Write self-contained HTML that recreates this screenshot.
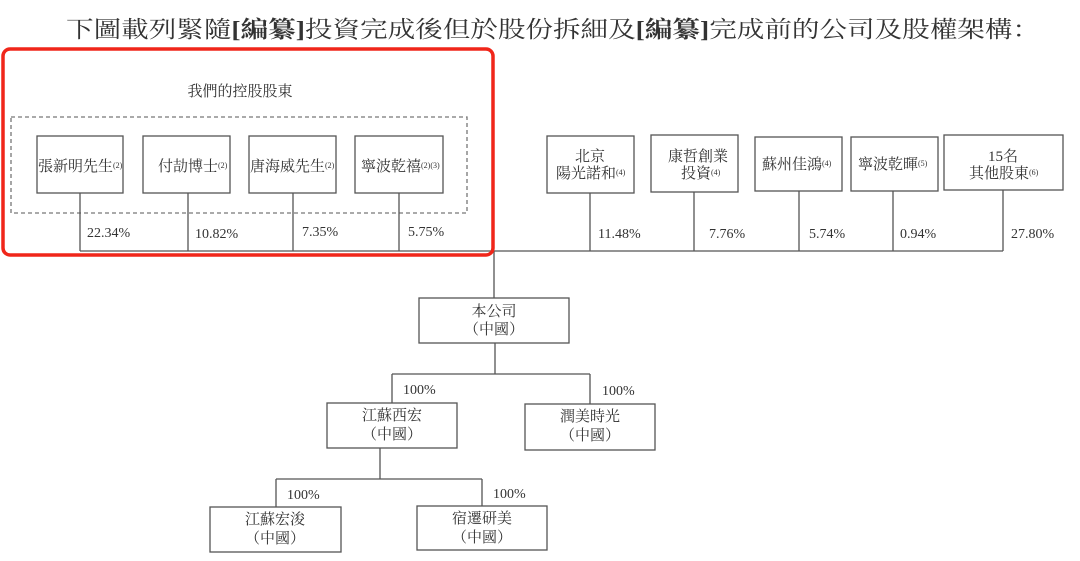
<!DOCTYPE html>
<html><head><meta charset="utf-8"><style>
html,body{margin:0;padding:0;background:#fff;}
svg{display:block;}
text{font-family:"Liberation Serif","Noto Serif CJK SC","Noto Sans CJK TC",serif;fill:#333;}
</style></head><body>
<svg width="1080" height="561" viewBox="0 0 1080 561" xmlns="http://www.w3.org/2000/svg">
<text x="66" y="37" font-size="23" textLength="974" lengthAdjust="spacingAndGlyphs">下圖載列緊隨<tspan font-weight="bold">[編纂]</tspan>投資完成後但於股份拆細及<tspan font-weight="bold">[編纂]</tspan>完成前的公司及股權架構：</text>
<g stroke="#555" stroke-width="1.3" fill="none">
<rect x="11" y="117" width="456" height="96" stroke-dasharray="4,3" stroke="#777"/>
<rect x="37" y="136" width="86" height="57"/>
<rect x="143" y="136" width="87" height="57"/>
<rect x="249" y="136" width="87" height="57"/>
<rect x="355" y="136" width="88" height="57"/>
<rect x="547" y="136" width="87" height="57"/>
<rect x="651" y="135" width="87" height="57"/>
<rect x="755" y="137" width="87" height="54"/>
<rect x="851" y="137" width="87" height="54"/>
<rect x="944" y="135" width="119" height="55"/>
<path d="M80 193V251M188 193V251M293 193V251M399 193V251M590 193V251M694 192V251M799 191V251M893 191V251M1003 190V251M80 251H1003"/>
<path d="M494 251V298M495 343V374M392 374H590M392 374V403M590 374V404M380 448V479M276 479H482M276 479V507M482 479V506"/>
<rect x="419" y="298" width="150" height="45"/>
<rect x="327" y="403" width="130" height="45"/>
<rect x="525" y="404" width="130" height="46"/>
<rect x="210" y="507" width="131" height="45"/>
<rect x="417" y="506" width="130" height="44"/>
</g>
<rect x="3" y="49" width="490" height="206" rx="7" fill="none" stroke="#f0261a" stroke-width="3.5"/>
<g font-size="15">
<text x="240" y="96" text-anchor="middle">我們的控股股東</text>
<text x="38" y="171">張新明先生<tspan font-size="8" dy="-3">(2)</tspan></text>
<text x="158" y="171">付劼博士<tspan font-size="8" dy="-3">(2)</tspan></text>
<text x="250" y="171">唐海威先生<tspan font-size="8" dy="-3">(2)</tspan></text>
<text x="361" y="171">寧波乾禧<tspan font-size="8" dy="-3">(2)(3)</tspan></text>
<text x="590" y="161" text-anchor="middle">北京</text>
<text x="556" y="178">陽光諾和<tspan font-size="8" dy="-3">(4)</tspan></text>
<text x="668" y="161">康哲創業</text>
<text x="681" y="178">投資<tspan font-size="8" dy="-3">(4)</tspan></text>
<text x="762" y="169">蘇州佳鴻<tspan font-size="8" dy="-3">(4)</tspan></text>
<text x="858" y="169">寧波乾暉<tspan font-size="8" dy="-3">(5)</tspan></text>
<text x="1003" y="161" text-anchor="middle">15名</text>
<text x="969" y="178">其他股東<tspan font-size="8" dy="-3">(6)</tspan></text>
<g font-size="14">
<text x="87" y="237">22.34%</text>
<text x="195" y="238">10.82%</text>
<text x="302" y="236">7.35%</text>
<text x="408" y="236">5.75%</text>
<text x="598" y="238">11.48%</text>
<text x="709" y="238">7.76%</text>
<text x="809" y="238">5.74%</text>
<text x="900" y="238">0.94%</text>
<text x="1011" y="238">27.80%</text>
<text x="403" y="394">100%</text>
<text x="602" y="395">100%</text>
<text x="287" y="499">100%</text>
<text x="493" y="498">100%</text>
</g>
<text x="494" y="316" text-anchor="middle">本公司</text>
<text x="494" y="334" text-anchor="middle">（中國）</text>
<text x="392" y="420" text-anchor="middle">江蘇西宏</text>
<text x="392" y="439" text-anchor="middle">（中國）</text>
<text x="590" y="421" text-anchor="middle">潤美時光</text>
<text x="590" y="440" text-anchor="middle">（中國）</text>
<text x="275" y="524" text-anchor="middle">江蘇宏浚</text>
<text x="275" y="543" text-anchor="middle">（中國）</text>
<text x="482" y="523" text-anchor="middle">宿遷研美</text>
<text x="482" y="542" text-anchor="middle">（中國）</text>
</g>
</svg>
</body></html>
